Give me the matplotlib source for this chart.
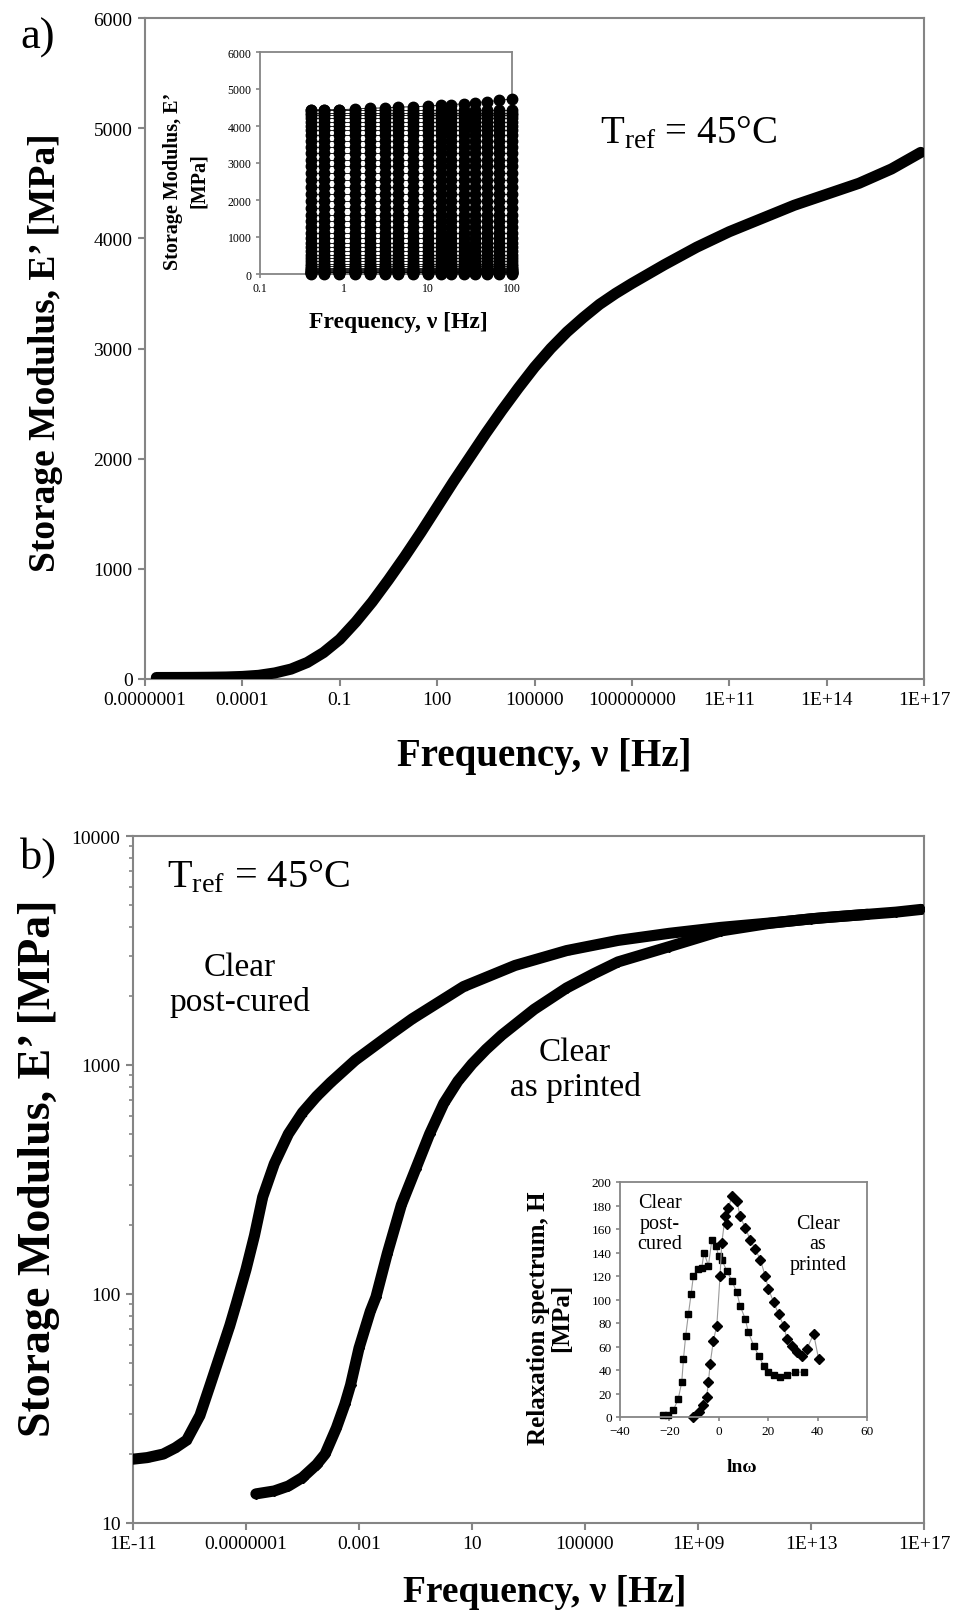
import matplotlib
matplotlib.use('Agg')
import matplotlib.pyplot as plt
import numpy as np
from matplotlib.ticker import NullLocator, LogLocator, NullFormatter

plt.rcParams['font.family'] = ['Liberation Serif', 'DejaVu Serif']
plt.rcParams['mathtext.fontset'] = 'custom'
plt.rcParams['mathtext.rm'] = 'Liberation Serif'
plt.rcParams['mathtext.it'] = 'Liberation Serif:italic'
plt.rcParams['mathtext.bf'] = 'Liberation Serif:bold'

# ---------------- data ----------------
# (a) Clear as printed master curve (log10 of frequency [Hz], E' [MPa])
as_printed_logf = [-6.65, -6.0, -5.5, -5.0, -4.5, -4.0, -3.5, -3.0, -2.5, -2.0, -1.5, -1.0,
                   -0.5, 0.0, 0.5, 1.0, 1.5, 2.0, 2.5, 3.0, 3.5, 4.0, 4.5, 5.0, 5.5, 6.0,
                   6.5, 7.0, 7.5, 8.0, 9.0, 10.0, 11.0, 12.0, 13.0, 14.0, 15.0, 16.0, 16.9]
as_printed_E = [13.4, 13.8, 14.5, 15.8, 18, 23, 33, 55, 90, 150, 240, 360,
                520, 700, 900, 1110, 1330, 1560, 1790, 2010, 2230, 2440, 2640, 2830, 3000, 3150,
                3280, 3400, 3500, 3590, 3760, 3920, 4060, 4180, 4300, 4400, 4500, 4630, 4780]

# (b) Clear as printed master curve
b_as_logf = [-6.65, -6.0, -5.5, -5.0, -4.5, -4.2, -3.8, -3.5, -3.3, -3.0, -2.6, -2.4,
             -2.0, -1.5, -1.0, -0.5, 0.0, 0.5, 1.0, 1.5, 2.05, 3.2, 4.35, 5.3, 6.17, 7.99,
             9.81, 11.5, 13.0, 14.5, 16.0, 16.9]
b_as_E = [13.4, 13.8, 14.5, 15.8, 18, 20, 26, 33, 40, 58, 84, 97,
          150, 245, 350, 500, 680, 850, 1010, 1170, 1350, 1750, 2170, 2500, 2820, 3290,
          3850, 4150, 4350, 4500, 4650, 4780]

# (b) Clear post-cured master curve
post_cured_logf = [-11.0, -10.5, -9.93, -9.5, -9.1, -8.63, -8.27, -7.92, -7.57, -7.33, -7.0,
                   -6.7, -6.41, -6.0, -5.5, -5.0, -4.5, -4.0, -3.13, -2.0, -1.12, 0.70, 2.52,
                   4.35, 6.17, 7.99, 9.81, 11.64, 13.46, 15.0]
post_cured_E = [19, 19.3, 20, 21.3, 23, 29.5, 40, 54, 73, 92, 128,
                180, 265, 370, 500, 620, 730, 840, 1050, 1330, 1590, 2200, 2720,
                3160, 3500, 3760, 3990, 4180, 4400, 4550]

# Inset (a): raw frequency sweeps
inset_freqs = [0.4, 0.58, 0.87, 1.37, 2.06, 3.1, 4.4, 6.7, 10, 14.4, 19, 26.5, 36, 51, 70, 100]
inset_col_top = [4430, 4440, 4440, 4460, 4480, 4490, 4510, 4520, 4540, 4560, 4580, 4600,
                 4630, 4660, 4690, 4730]
inset_levels = [13, 20, 30, 45, 60, 80, 100, 130, 170, 220, 280, 350, 430, 520, 620, 730,
                850, 980, 1120, 1270, 1430, 1600, 1780, 1960, 2150, 2340, 2530, 2720, 2910,
                3090, 3270, 3440, 3600, 3750, 3890, 4010, 4120, 4210, 4290, 4360, 4420]

# Inset (b): relaxation spectra
post_lnw = [-22.4, -20.4, -18.4, -16.4, -15.0, -14.3, -13.4, -12.3, -11.2, -10.3, -8.6, -6.9,
            -6.0, -4.2, -2.8, -1.1, -0.1, 1.2, 3.2, 5.3, 7.3, 8.6, 10.7, 12.0, 14.1, 16.1,
            18.1, 20.1, 22.2, 24.9, 27.6, 31.0, 34.3]
post_H = [1.4, 2, 5.7, 15.6, 29.7, 49.5, 69.3, 87.7, 104.7, 120, 126, 127,
          140, 128.7, 151, 145.7, 137, 134, 124.5, 116, 106, 94.8, 83.5, 72, 60.8, 52.3,
          43.8, 38.2, 35.4, 34, 35.4, 38.2, 38.2]
as_lnw = [-10.3, -8.2, -6.2, -4.9, -4.2, -3.5, -2.2, -0.8, 0.5, 1.2, 2.6, 3.2, 3.9, 5.3,
          7.3, 8.6, 10.7, 12.7, 14.7, 16.8, 18.8, 20.1, 22.2, 24.2, 26.2, 27.6, 29.6, 31.6,
          33.6, 35.7, 38.4, 40.4]
as_H = [0, 4.2, 9.9, 17, 29.7, 45.3, 65, 77.8, 120, 148, 171, 164, 178, 188,
        184, 171, 161, 151, 143, 134, 120, 109, 97.6, 87.7, 77.8, 66.5, 60.8, 55.2,
        52.3, 58, 70.7, 49.5]

# tick labels
a_xtick_exp = [-7, -4, -1, 2, 5, 8, 11, 14, 17]
a_xtick_labels = ['0.0000001', '0.0001', '0.1', '100', '100000', '100000000',
                  '1E+11', '1E+14', '1E+17']
b_xtick_exp = [-11, -7, -3, 1, 5, 9, 13, 17]
b_xtick_labels = ['1E-11', '0.0000001', '0.001', '10', '100000', '1E+09', '1E+13', '1E+17']
b_ytick = [10, 100, 1000, 10000]

GRAY = '#858585'
W, H = 957, 1615


def fx(px):
    return px / W


def fy(py):
    return 1 - py / H


def spines(ax, lw=1.5):
    for s in ax.spines.values():
        s.set_color(GRAY)
        s.set_linewidth(lw)


fig = plt.figure(figsize=(9.57, 16.15), dpi=100)

# ---------------- panel a ----------------
axA = fig.add_axes([fx(145), fy(680), fx(924) - fx(145), fy(19) - fy(680)])
axA.set_xscale('log')
axA.plot(10.0 ** np.array(as_printed_logf), as_printed_E, '-', color='black', lw=8,
         solid_capstyle='round', solid_joinstyle='round', zorder=3)
axA.set_xlim(1e-7, 1e17)
axA.set_ylim(0, 6000)
axA.set_xticks([10.0 ** e for e in a_xtick_exp])
axA.set_xticklabels(a_xtick_labels)
axA.xaxis.set_minor_locator(NullLocator())
axA.set_yticks(range(0, 6001, 1000))
axA.tick_params(direction='out', length=5, width=1.5, color=GRAY, labelsize=14, pad=4)
spines(axA)
fig.text(fx(544), fy(757), 'Frequency, ν [Hz]', fontsize=28, fontweight='bold',
         ha='center', va='center')
fig.text(fx(46), fy(353), 'Storage Modulus, E\u2019 [MPa]', fontsize=27, fontweight='bold',
         ha='center', va='center', rotation=90)
fig.text(fx(20), fy(38), 'a)', fontsize=32, ha='left', va='center')
fig.text(fx(600), fy(143), r'T$_{\mathrm{ref}}$ = 45°C', fontsize=28, ha='left',
         va='baseline')

# inset a
axIa = fig.add_axes([fx(260), fy(275), fx(512) - fx(260), fy(53) - fy(275)])
axIa.set_xscale('log')
for j, f in enumerate(inset_freqs):
    ys = [v for v in inset_levels if v <= inset_col_top[j]] + [inset_col_top[j]]
    axIa.plot([f] * len(ys), ys, 'o', color='black', ms=7.5, clip_on=False, zorder=3)
for v in inset_levels:
    xs = [f for j, f in enumerate(inset_freqs) if v <= inset_col_top[j]]
    axIa.plot(xs, [v] * len(xs), '-', color='black', lw=0.6, clip_on=False, zorder=2)
axIa.plot(inset_freqs, inset_col_top, '-', color='black', lw=0.6, clip_on=False)
axIa.set_xlim(0.1, 100)
axIa.set_ylim(0, 6000)
axIa.set_xticks([0.1, 1, 10, 100])
axIa.set_xticklabels(['0.1', '1', '10', '100'])
axIa.xaxis.set_minor_locator(NullLocator())
axIa.set_yticks(range(0, 6001, 1000))
axIa.tick_params(direction='out', length=3, width=1.2, color=GRAY, labelsize=8.5, pad=3)
spines(axIa, 1.3)
fig.text(fx(186), fy(181), 'Storage Modulus, E\u2019\n[MPa]', fontsize=14.5, fontweight='bold',
         ha='center', va='center', rotation=90, linespacing=1.4, multialignment='center')
fig.text(fx(398), fy(323), 'Frequency, ν [Hz]', fontsize=17, fontweight='bold',
         ha='center', va='center')

# ---------------- panel b ----------------
axB = fig.add_axes([fx(133), fy(1524), fx(924) - fx(133), fy(837) - fy(1524)])
axB.set_xscale('log')
axB.set_yscale('log')
axB.plot(10.0 ** np.array(post_cured_logf), post_cured_E, '-', color='black', lw=8,
         solid_capstyle='round', solid_joinstyle='round', marker='s', ms=5, zorder=3)
axB.plot(10.0 ** np.array(b_as_logf), b_as_E, '-', color='black', lw=8,
         solid_capstyle='round', solid_joinstyle='round', marker='D', ms=5, zorder=3)
axB.set_xlim(1e-11, 1e17)
axB.set_ylim(10, 10000)
axB.set_xticks([10.0 ** e for e in b_xtick_exp])
axB.set_xticklabels(b_xtick_labels)
axB.xaxis.set_minor_locator(NullLocator())
axB.set_yticks(b_ytick)
axB.set_yticklabels([str(v) for v in b_ytick])
axB.yaxis.set_minor_locator(LogLocator(base=10, subs=np.arange(2, 10)))
axB.yaxis.set_minor_formatter(NullFormatter())
axB.tick_params(which='major', direction='out', length=5, width=1.5, color=GRAY,
                labelsize=14, pad=4)
axB.tick_params(which='minor', direction='out', length=3, width=1.2, color=GRAY)
spines(axB)
fig.text(fx(545), fy(1593), 'Frequency, ν [Hz]', fontsize=27, fontweight='bold',
         ha='center', va='center')
fig.text(fx(39), fy(1168), 'Storage Modulus, E\u2019 [MPa]', fontsize=33, fontweight='bold',
         ha='center', va='center', rotation=90)
fig.text(fx(20), fy(858), 'b)', fontsize=32, ha='left', va='center')
fig.text(fx(167), fy(887), r'T$_{\mathrm{ref}}$ = 45°C', fontsize=29, ha='left',
         va='baseline')
fig.text(fx(240), fy(985), 'Clear\npost-cured', fontsize=24, ha='center', va='center',
         linespacing=1.15)
fig.text(fx(575), fy(1070), 'Clear\nas printed', fontsize=24, ha='center', va='center',
         linespacing=1.15)

# inset b
axIb = fig.add_axes([fx(620), fy(1418), fx(867) - fx(620), fy(1183) - fy(1418)])
axIb.plot(post_lnw, post_H, '-', color='#9a9a9a', lw=0.8, marker='s', ms=5,
          mfc='black', mec='black', clip_on=False)
axIb.plot(as_lnw, as_H, '-', color='#9a9a9a', lw=0.8, marker='D', ms=5.5,
          mfc='black', mec='black', clip_on=False)
axIb.set_xlim(-40, 60)
axIb.set_ylim(0, 200)
axIb.set_xticks(range(-40, 61, 20))
axIb.set_yticks(range(0, 201, 20))
axIb.tick_params(direction='out', length=3, width=1.2, color=GRAY, labelsize=9.5, pad=3)
spines(axIb, 1.3)
fig.text(fx(660), fy(1224), 'Clear\npost-\ncured', fontsize=14.5, ha='center', va='center',
         linespacing=1.1)
fig.text(fx(818), fy(1245), 'Clear\nas\nprinted', fontsize=14.5, ha='center', va='center',
         linespacing=1.1)
fig.text(fx(550), fy(1318), 'Relaxation spectrum, H\n[MPa]', fontsize=18, fontweight='bold',
         ha='center', va='center', rotation=90, linespacing=1.0, multialignment='center')
fig.text(fx(742), fy(1468), 'lnω', fontsize=14, fontweight='bold', ha='center', va='center')

fig.savefig('out.png', dpi=100, facecolor='white')
